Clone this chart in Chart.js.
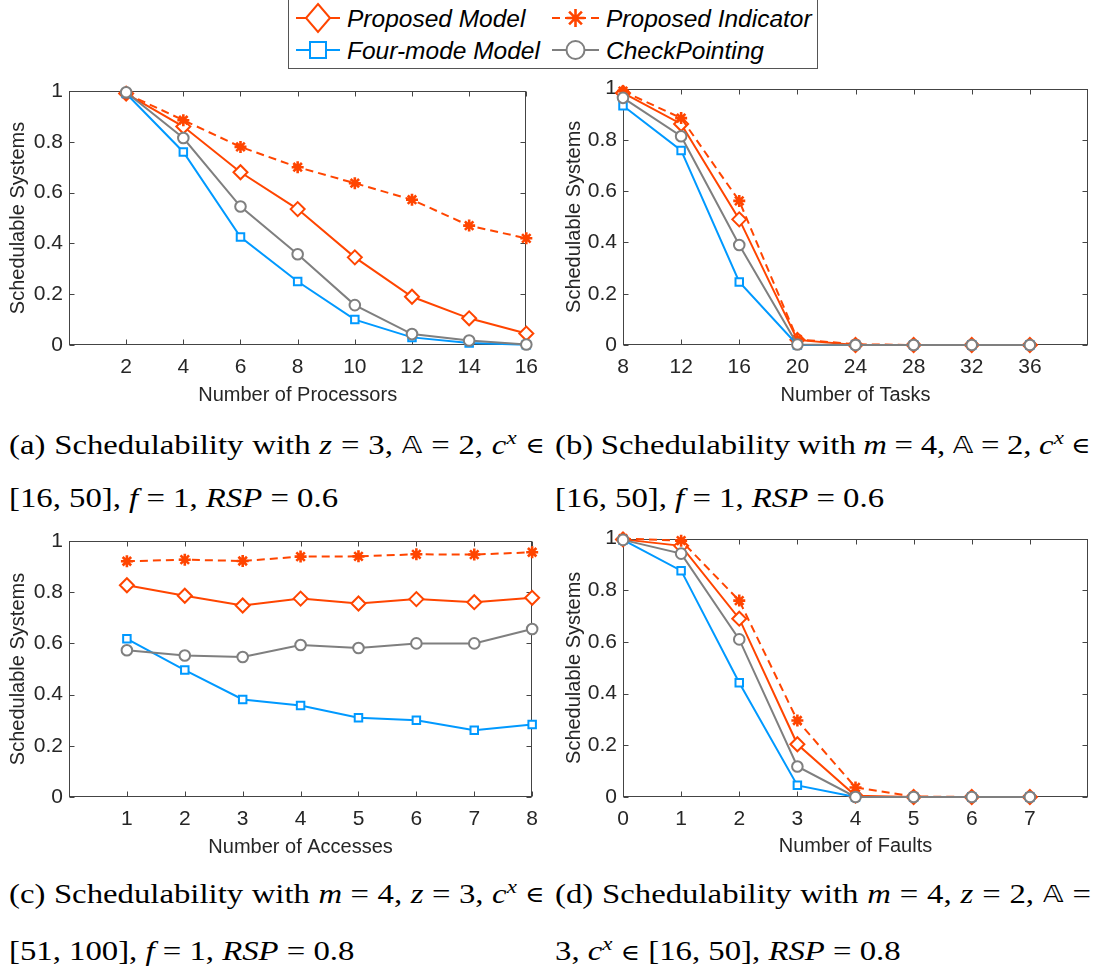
<!DOCTYPE html>
<html>
<head>
<meta charset="utf-8">
<script src="https://cdn.jsdelivr.net/npm/chart.js@4.4.1/dist/chart.umd.min.js"></script>
<style>
  html, body { margin: 0; padding: 0; background: #fff; }
  body { width: 1097px; height: 976px; position: relative; overflow: hidden; }
  canvas { position: absolute; }
  svg { position: absolute; left: 0; top: 0; }
  .cap { position: absolute; width: 458px; height: 34px; line-height: 34px; white-space: nowrap;
         font-family: 'Liberation Serif', 'Times New Roman', serif; font-size: 28px; color: #000;
         transform: scaleX(1.17); transform-origin: 0 0; }
  .cap.just { display: flex; justify-content: space-between; }
  .cap sup { font-size: 0.7em; line-height: 0; vertical-align: 0.5em; }
  .bb { font-family: 'DejaVu Sans', 'DejaVu Serif', serif; font-size: 0.85em; }
  .el { font-family: 'DejaVu Serif', serif; font-size: 0.8em; font-weight: normal; }
</style>
</head>
<body>

<svg id="legend" width="1097" height="72"></svg>

<canvas id="c1" width="548" height="350" style="left:0px;top:70px"></canvas>
<canvas id="c2" width="545" height="350" style="left:552px;top:70px"></canvas>
<canvas id="c3" width="548" height="350" style="left:0px;top:520px"></canvas>
<canvas id="c4" width="545" height="350" style="left:552px;top:520px"></canvas>

<div class="cap just" style="left:9px;top:428px"><span>(a)</span><span>Schedulability</span><span>with</span><span><i>z</i></span><span>=</span><span>3,</span><span class="bb">𝔸</span><span>=</span><span>2,</span><span><i>c</i><sup><i>x</i></sup></span><span class="el">∈</span></div>
<div class="cap" style="left:9px;top:481px">[16, 50], <i>f</i> = 1, <i>RSP</i> = 0.6</div>

<div class="cap just" style="left:555px;top:428px"><span>(b)</span><span>Schedulability</span><span>with</span><span><i>m</i></span><span>=</span><span>4,</span><span class="bb">𝔸</span><span>=</span><span>2,</span><span><i>c</i><sup><i>x</i></sup></span><span class="el">∈</span></div>
<div class="cap" style="left:555px;top:481px">[16, 50], <i>f</i> = 1, <i>RSP</i> = 0.6</div>

<div class="cap just" style="left:9px;top:877px"><span>(c)</span><span>Schedulability</span><span>with</span><span><i>m</i></span><span>=</span><span>4,</span><span><i>z</i></span><span>=</span><span>3,</span><span><i>c</i><sup><i>x</i></sup></span><span class="el">∈</span></div>
<div class="cap" style="left:9px;top:934px">[51, 100], <i>f</i> = 1, <i>RSP</i> = 0.8</div>

<div class="cap just" style="left:555px;top:877px"><span>(d)</span><span>Schedulability</span><span>with</span><span><i>m</i></span><span>=</span><span>4,</span><span><i>z</i></span><span>=</span><span>2,</span><span class="bb">𝔸</span><span>=</span></div>
<div class="cap" style="left:555px;top:934px">3, <i>c</i><sup><i>x</i></sup> <span class="el">∈</span> [16, 50], <i>RSP</i> = 0.8</div>

<script>
  // series names (legend order)
  var seriesNames = ['Proposed Model', 'Proposed Indicator', 'Four-mode Model', 'CheckPointing']

  // x categories / tick labels
  var procX = [2, 4, 6, 8, 10, 12, 14, 16]
  var taskX = [8, 12, 16, 20, 24, 28, 32, 36]
  var accessX = [1, 2, 3, 4, 5, 6, 7, 8]
  var faultX = [0, 1, 2, 3, 4, 5, 6, 7]
  var yTicks = [0, 0.2, 0.4, 0.6, 0.8, 1]

  // (a) number of processors
  var procModel = [0.99, 0.86, 0.68, 0.535, 0.345, 0.19, 0.105, 0.045]
  var procIndicator = [0.99, 0.885, 0.78, 0.70, 0.637, 0.572, 0.47, 0.42]
  var procFourMode = [0.99, 0.76, 0.425, 0.25, 0.10, 0.03, 0.008, 0.001]
  var procCheckpoint = [0.995, 0.815, 0.545, 0.357, 0.157, 0.043, 0.018, 0.002]

  // (b) number of tasks
  var taskModel = [0.983, 0.862, 0.49, 0.02, 0, 0, 0, 0]
  var taskIndicator = [0.99, 0.885, 0.562, 0.022, 0.003, 0, 0, 0]
  var taskFourMode = [0.933, 0.759, 0.246, 0, 0, 0, 0, 0]
  var taskCheckpoint = [0.964, 0.814, 0.39, 0.002, 0, 0, 0, 0]

  // (c) number of accesses
  var accessModel = [0.827, 0.786, 0.748, 0.775, 0.756, 0.773, 0.761, 0.778]
  var accessIndicator = [0.921, 0.927, 0.922, 0.939, 0.940, 0.948, 0.947, 0.956]
  var accessFourMode = [0.618, 0.496, 0.381, 0.357, 0.310, 0.300, 0.261, 0.283]
  var accessCheckpoint = [0.573, 0.553, 0.547, 0.594, 0.582, 0.600, 0.600, 0.656]

  // (d) number of faults
  var faultModel = [0.997, 0.972, 0.69, 0.204, 0.005, 0, 0, 0]
  var faultIndicator = [1.0, 0.992, 0.76, 0.296, 0.037, 0.002, 0, 0]
  var faultFourMode = [0.995, 0.876, 0.442, 0.045, 0, 0, 0, 0]
  var faultCheckpoint = [0.995, 0.942, 0.61, 0.118, 0, 0, 0, 0]

  var orange = '#ff4500'
  var blue = '#0099ff'
  var gray = '#7f7f7f'
  var axisColor = '#262626'
  var fontFamily = "'Liberation Sans', Arial, Helvetica, sans-serif"

  var seriesStyles = [
    { color: orange, dash: [], marker: 'rectRot', radius: 7, width: 2, order: 3 },
    { color: orange, dash: [8, 5], marker: 'star', radius: 6, width: 2.6, order: 2 },
    { color: blue, dash: [], marker: 'rect', radius: 5.3, width: 2, order: 1 },
    { color: gray, dash: [], marker: 'circle', radius: 5.3, width: 2, order: 0 }
  ]

  function points(xs, ys) {
    return xs.map(function(x, i) {
      return { x: x, y: ys[i] }
    })
  }

  // matlab style box with inward ticks
  var boxPlugin = {
    id: 'box',
    beforeDatasetsDraw: function(chart) {
      var a = chart.chartArea
      var ctx = chart.ctx
      var sx = chart.scales.x
      var sy = chart.scales.y
      var l = Math.round(a.left) + 0.5
      var r = Math.round(a.right) - 0.5
      var t = Math.round(a.top) + 0.5
      var b = Math.round(a.bottom) - 0.5
      var len = 5
      ctx.save()
      ctx.strokeStyle = '#444'
      ctx.lineWidth = 1
      ctx.strokeRect(l, t, r - l, b - t)
      ctx.beginPath()
      sx.ticks.forEach(function(tk) {
        var px = Math.round(sx.getPixelForValue(tk.value)) + 0.5
        ctx.moveTo(px, b); ctx.lineTo(px, b - len)
        ctx.moveTo(px, t); ctx.lineTo(px, t + len)
      })
      sy.ticks.forEach(function(tk) {
        var py = Math.round(sy.getPixelForValue(tk.value)) + 0.5
        ctx.moveTo(l, py); ctx.lineTo(l + len, py)
        ctx.moveTo(r, py); ctx.lineTo(r - len, py)
      })
      ctx.stroke()
      ctx.restore()
    }
  }

  function buildChart(id, cfg) {
    var datasets = cfg.series.map(function(ys, i) {
      var st = seriesStyles[i]
      return {
        label: seriesNames[i],
        data: points(cfg.xs, ys),
        borderColor: st.color,
        borderWidth: 2,
        borderDash: st.dash,
        backgroundColor: '#fff',
        pointStyle: st.marker,
        pointRadius: st.radius,
        pointBorderWidth: st.width,
        pointBorderColor: st.color,
        pointBackgroundColor: '#fff',
        tension: 0,
        clip: false,
        order: st.order
      }
    })
    return new Chart(document.getElementById(id), {
      type: 'line',
      data: { datasets: datasets },
      plugins: [boxPlugin],
      options: {
        responsive: false,
        animation: false,
        events: [],
        devicePixelRatio: 1,
        layout: { padding: { top: cfg.padTop, right: cfg.padRight, left: 0, bottom: 0 } },
        plugins: { legend: { display: false }, tooltip: { enabled: false } },
        scales: {
          x: {
            type: 'linear',
            min: cfg.xMin,
            max: cfg.xMax,
            grid: { display: false, drawTicks: false },
            border: { display: false },
            afterBuildTicks: function(s) {
              s.ticks = cfg.xs.map(function(v) { return { value: v } })
            },
            afterFit: function(s) { s.height = cfg.xHeight },
            ticks: {
              color: axisColor,
              font: { family: fontFamily, size: 21 },
              padding: 10,
              autoSkip: false,
              maxRotation: 0,
              callback: function(v) { return String(v) }
            },
            title: {
              display: true,
              text: cfg.xTitle,
              color: axisColor,
              font: { family: fontFamily, size: 20 },
              padding: { top: 0, bottom: cfg.xTitlePad }
            }
          },
          y: {
            type: 'linear',
            min: 0,
            max: 1,
            grid: { display: false, drawTicks: false },
            border: { display: false },
            afterBuildTicks: function(s) {
              s.ticks = yTicks.map(function(v) { return { value: v } })
            },
            afterFit: function(s) { s.width = cfg.yWidth },
            ticks: {
              color: axisColor,
              font: { family: fontFamily, size: 21 },
              padding: 6,
              callback: function(v) { return String(v) }
            },
            title: {
              display: true,
              text: 'Schedulable Systems',
              color: axisColor,
              font: { family: fontFamily, size: 20 },
              padding: { top: cfg.yTitlePad, bottom: 0 }
            }
          }
        }
      }
    })
  }

  buildChart('c1', {
    xs: procX, xMin: 0, xMax: 16, xTitle: 'Number of Processors',
    series: [procModel, procIndicator, procFourMode, procCheckpoint],
    padTop: 21, padRight: 17, yWidth: 69, xHeight: 75, xTitlePad: 13, yTitlePad: 6
  })
  buildChart('c2', {
    xs: taskX, xMin: 8, xMax: 40, xTitle: 'Number of Tasks',
    series: [taskModel, taskIndicator, taskFourMode, taskCheckpoint],
    padTop: 15, padRight: 1, yWidth: 71, xHeight: 75, xTitlePad: 13, yTitlePad: 10
  })
  buildChart('c3', {
    xs: accessX, xMin: 0, xMax: 8, xTitle: 'Number of Accesses',
    series: [accessModel, accessIndicator, accessFourMode, accessCheckpoint],
    padTop: 21, padRight: 15, yWidth: 69, xHeight: 73, xTitlePad: 11, yTitlePad: 6
  })
  buildChart('c4', {
    xs: faultX, xMin: 0, xMax: 8, xTitle: 'Number of Faults',
    series: [faultModel, faultIndicator, faultFourMode, faultCheckpoint],
    padTop: 17, padRight: 1, yWidth: 71, xHeight: 73, xTitlePad: 12, yTitlePad: 10
  })

  // shared legend on top
  function buildLegend() {
    var svg = document.getElementById('legend')
    var ns = 'http://www.w3.org/2000/svg'
    function el(tag, attrs) {
      var e = document.createElementNS(ns, tag)
      for (var k in attrs) e.setAttribute(k, attrs[k])
      svg.appendChild(e)
      return e
    }
    el('rect', { x: 288.5, y: -1, width: 529, height: 69.5, fill: '#fff', stroke: '#555', 'stroke-width': 1 })
    var slots = [
      { x1: 296, x2: 340, tx: 347, cy: 18 },
      { x1: 552, x2: 599, tx: 606, cy: 18 },
      { x1: 296, x2: 340, tx: 347, cy: 50 },
      { x1: 552, x2: 599, tx: 606, cy: 50 }
    ]
    seriesNames.forEach(function(name, i) {
      var s = slots[i]
      var st = seriesStyles[i]
      var cx = (s.x1 + s.x2) / 2
      var line = { x1: s.x1, y1: s.cy, x2: s.x2, y2: s.cy, stroke: st.color, 'stroke-width': 2 }
      if (st.dash.length) line['stroke-dasharray'] = st.dash.join(' ')
      el('line', line)
      var m
      if (st.marker === 'rectRot') {
        m = el('polygon', { points: [cx, s.cy - 14, cx + 12, s.cy, cx, s.cy + 14, cx - 12, s.cy].join(' ') })
      } else if (st.marker === 'star') {
        var r = 9, d = 6.4
        m = el('path', { d: 'M' + (cx - r) + ' ' + s.cy + 'H' + (cx + r) + 'M' + cx + ' ' + (s.cy - r) + 'V' + (s.cy + r) +
          'M' + (cx - d) + ' ' + (s.cy - d) + 'L' + (cx + d) + ' ' + (s.cy + d) +
          'M' + (cx - d) + ' ' + (s.cy + d) + 'L' + (cx + d) + ' ' + (s.cy - d) })
      } else if (st.marker === 'rect') {
        m = el('rect', { x: cx - 8, y: s.cy - 8, width: 16, height: 16 })
      } else {
        m = el('circle', { cx: cx, cy: s.cy, r: 9 })
      }
      m.setAttribute('stroke', st.color)
      m.setAttribute('stroke-width', st.marker === 'star' ? 2.6 : 2)
      m.setAttribute('fill', st.marker === 'star' ? 'none' : '#fff')
      var t = el('text', { x: s.tx, y: s.cy + 8.5, 'font-family': fontFamily, 'font-size': 24.5, 'font-style': 'italic', fill: '#000' })
      t.textContent = name
    })
  }
  buildLegend()
</script>
</body>
</html>
